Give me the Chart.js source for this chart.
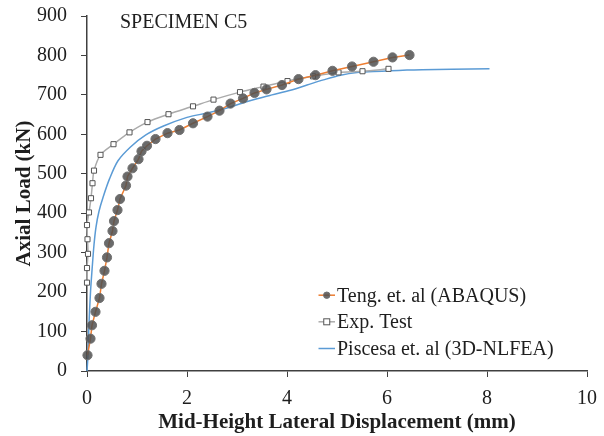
<!DOCTYPE html>
<html><head><meta charset="utf-8">
<script src="https://cdn.jsdelivr.net/npm/chart.js@4"></script>
<style>html,body{margin:0;padding:0;background:#fff;}canvas{display:block;}</style>
</head><body>
<canvas id="c" width="604" height="436"></canvas>
<script>
// ---- data ----
const tengX = [0.01,0.07,0.10,0.17,0.25,0.29,0.35,0.40,0.44,0.51,0.54,0.61,0.66,0.78,0.81,0.91,1.03,1.09,1.20,1.37,1.61,1.85,2.12,2.41,2.65,2.87,3.12,3.35,3.59,3.90,4.23,4.57,4.91,5.30,5.73,6.11,6.45];
const tengY = [40,82,116,150,185,221,254,288,324,355,380,408,436,470,493,514,537,557,571,588,603,611,628,645,660,678,691,705,714,725,740,750,761,772,784,795,801];
const expX = [0,0,0.02,0.01,0,0.04,0.08,0.11,0.14,0.27,0.53,0.85,1.21,1.63,2.12,2.53,3.06,3.53,4.01,4.52,5.03,5.51,6.03];
const expY = [224,261,297,334,370,402,438,476,508,548,575,605,631,651,671,688,707,721,735,747,757,760,766];
const pisX = [0,0.02,0.04,0.07,0.10,0.14,0.18,0.24,0.32,0.45,0.62,0.87,1.17,1.53,2.0,2.4,2.8,3.1,3.4,3.7,4.07,4.4,4.73,5.07,5.4,5.73,6.07,6.4,6.7,7.3,8.05];
const pisY = [0,40,120,200,255,320,365,405,440,487,533,568,598,621,643,654,667,679,690,700,712,725,738,750,757,759,761,763,764,765,766];
const seriesNames = ['Teng. et. al (ABAQUS)','Exp. Test','Piscesa et. al (3D-NLFEA)'];
const xTickVals = [0,2,4,6,8,10];
const yTickVals = [0,100,200,300,400,500,600,700,800,900];
const chartTitle = 'SPECIMEN C5';
const xTitle = 'Mid-Height Lateral Displacement (mm)';
const yTitle = 'Axial Load (kN)';

const pts = (xs, ys) => xs.map((x, i) => ({x: x, y: ys[i]}));
const SERIF = "'Liberation Serif','Times New Roman',serif";
const AX = '#404040';
const TXT = '#1e1e1e';

const overlay = {
  id: 'overlay',
  afterDraw(chart) {
    const ctx = chart.ctx;
    ctx.save();
    ctx.fillStyle = TXT;
    ctx.font = '20px ' + SERIF;
    ctx.textAlign = 'left';
    ctx.textBaseline = 'alphabetic';
    ctx.fillText(chartTitle, 120, 27.5);
    // legend
    const ds = chart.data.datasets;
    const x0 = 318.5, x1 = 335, tx = 337;
    const base = [301.7, 328.3, 355];
    ds.forEach((d, i) => {
      const ly = base[i] - 6.5;
      ctx.strokeStyle = d.borderColor;
      ctx.lineWidth = d.borderWidth;
      ctx.beginPath(); ctx.moveTo(x0, ly); ctx.lineTo(x1, ly); ctx.stroke();
      const cx = (x0 + x1) / 2;
      if (d.pointStyle === 'circle' && d.pointRadius > 0) {
        ctx.fillStyle = d.pointBackgroundColor; ctx.strokeStyle = d.pointBorderColor; ctx.lineWidth = 1;
        ctx.beginPath(); ctx.arc(cx, ly, 3.2, 0, Math.PI * 2); ctx.fill(); ctx.stroke();
      } else if (d.pointStyle === 'rect' && d.pointRadius > 0) {
        ctx.fillStyle = d.pointBackgroundColor; ctx.strokeStyle = d.pointBorderColor; ctx.lineWidth = 1;
        ctx.fillRect(cx - 3, ly - 3, 6, 6); ctx.strokeRect(cx - 3, ly - 3, 6, 6);
      }
      ctx.fillStyle = TXT;
      ctx.font = '20px ' + SERIF;
      ctx.fillText(d.label, tx, base[i]);
    });
    ctx.restore();
  }
};

new Chart(document.getElementById('c'), {
  type: 'scatter',
  data: {
    datasets: [
      {label: seriesNames[0], data: pts(tengX, tengY), showLine: true, tension: 0,
       borderColor: '#ED7D31', borderWidth: 1.5,
       pointStyle: 'circle', pointRadius: 4.6, pointBackgroundColor: 'rgba(80,80,80,0.85)', pointBorderColor: '#707070', pointBorderWidth: 1,
       clip: false},
      {label: seriesNames[1], data: pts(expX, expY), showLine: true, tension: 0.3,
       borderColor: '#ABABAB', borderWidth: 1.5,
       pointStyle: 'rect', pointRadius: 3.6, pointBackgroundColor: '#ffffff', pointBorderColor: '#555555', pointBorderWidth: 1,
       clip: false},
      {label: seriesNames[2], data: pts(pisX, pisY), showLine: true, tension: 0.3,
       borderColor: '#5B9BD5', borderWidth: 1.5, pointStyle: 'circle', pointRadius: 0, pointHoverRadius: 0,
       clip: false}
    ]
  },
  options: {
    responsive: false, animation: false, devicePixelRatio: 1,
    layout: {padding: {left: 0, top: 16, right: 17, bottom: 0}},
    plugins: {legend: {display: false}, tooltip: {enabled: false}, title: {display: false}},
    scales: {
      x: {
        type: 'linear', min: 0, max: 10,
        afterBuildTicks: s => { s.ticks = xTickVals.map(v => ({value: v})); },
        afterFit: s => { s.height = 65; s.paddingLeft = 0; s.paddingRight = 0; },
        ticks: {font: {family: SERIF, size: 20}, color: TXT, padding: 10, maxRotation: 0},
        grid: {display: true, drawOnChartArea: false, drawTicks: true, tickLength: 6, color: AX, lineWidth: 1},
        border: {display: true, color: AX, width: 1.5},
        title: {display: true, text: xTitle, color: TXT, font: {family: SERIF, size: 21, weight: 'bold'}, padding: {top: 0, bottom: 1}}
      },
      y: {
        type: 'linear', min: 0, max: 900,
        afterBuildTicks: s => { s.ticks = yTickVals.map(v => ({value: v})); },
        afterFit: s => { s.width = 87; s.paddingTop = 0; s.paddingBottom = 0; },
        ticks: {font: {family: SERIF, size: 20}, color: TXT, padding: 14},
        grid: {display: true, drawOnChartArea: false, drawTicks: true, tickLength: 6, color: AX, lineWidth: 1},
        border: {display: true, color: AX, width: 1.5},
        title: {display: true, text: yTitle, color: TXT, font: {family: SERIF, size: 21, weight: 'bold'}, padding: {top: 12, bottom: 0}}
      }
    }
  },
  plugins: [overlay]
});
</script>
</body></html>
